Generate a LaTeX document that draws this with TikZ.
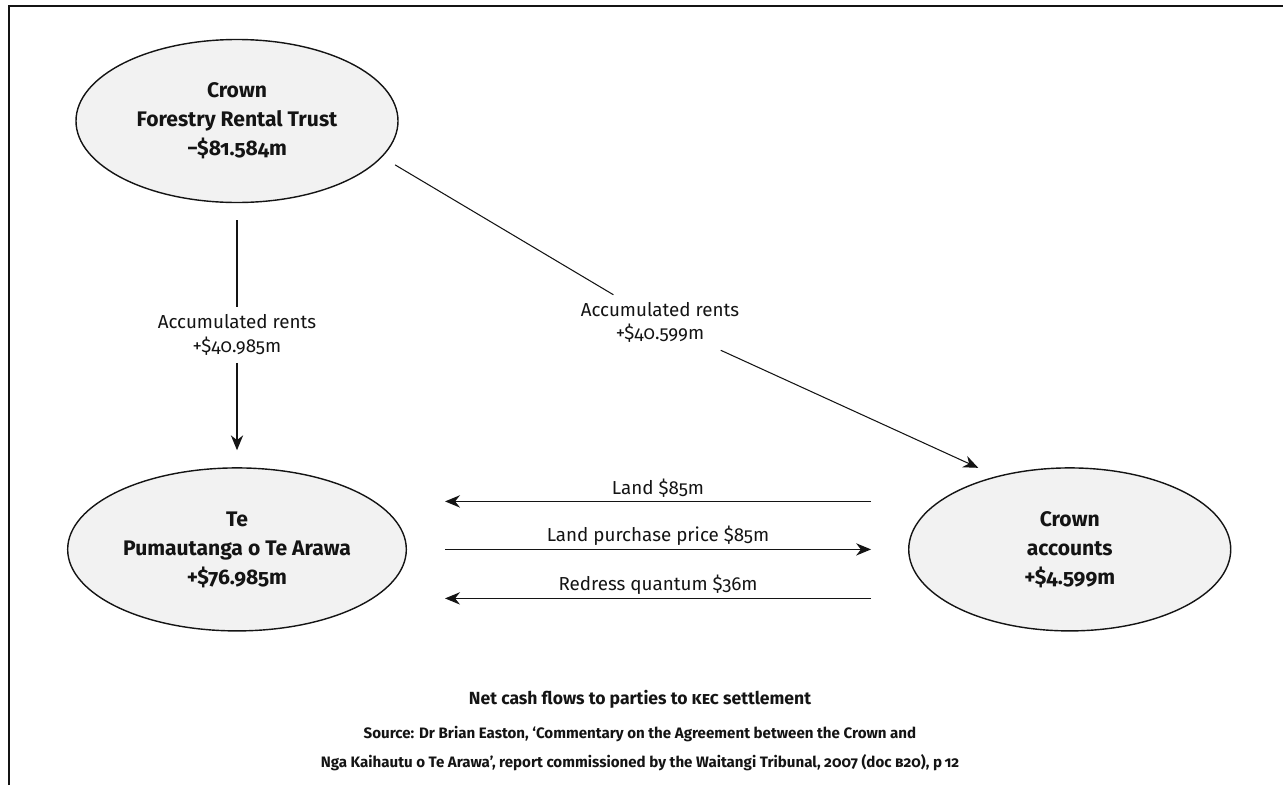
\documentclass[tikz,border=0pt]{standalone}
\usepackage{fontspec}
\setmainfont{Fira Sans}[Numbers=OldStyle]
\usetikzlibrary{
    arrows.meta,
    calc,
    positioning,
    shapes.geometric
}
\definecolor{ink}{RGB}{20,20,20}
\definecolor{partyfill}{RGB}{242,242,242}
\tikzset{
    line cap=round,
    line join=round,
    party/.style={
        ellipse,
        draw=ink,
        line width=0.8pt,
        fill=partyfill,
        text=ink,
        minimum width=6.44cm,
        minimum height=3.26cm,
        align=center,
        font=\bfseries\fontsize{12}{16.5}\selectfont
    },
    flowline/.style={
        -,
        draw=ink,
        line width=0.6pt
    },
    flow/.style={
        -{Stealth[length=8.5pt, width=7pt]},
        draw=ink,
        line width=0.6pt
    },
    flowlabel/.style={
        font=\fontsize{10.7}{13.5}\selectfont,
        text=ink,
        align=center,
        inner sep=4pt
    },
    figtitle/.style={
        font=\bfseries\fontsize{10}{12}\selectfont,
        text=ink
    },
    figsource/.style={
        font=\bfseries\fontsize{8.6}{16.5}\selectfont,
        text=ink,
        align=center
    }
}

\begin{document}
\begin{tikzpicture}
\useasboundingbox (0,0) rectangle (25.66,-15.7);

% Frame (top and left rules)
\draw[ink, line width=1pt] (0.18,-15.7) -- (0.18,-0.12) -- (25.66,-0.12);

% Parties
\node[party] (trust) at (4.74,-2.42) {Crown\\Forestry Rental Trust\\−\$81.584m};
\node[party, below=5.28cm of trust] (te) {Te\\Pumautanga o Te Arawa\\+\$76.985m};
\node[party, right=10.02cm of te] (accounts) {Crown\\accounts\\+\$4.599m};

% Accumulated rents
\node[flowlabel] (rentsA) at ($(trust.south)!0.5!(te.north)$) {Accumulated rents\\+\$40.985m};
\draw[flowline, shorten <=0.34cm] (trust) -- (rentsA);
\draw[flow, shorten >=0.34cm] (rentsA) -- (te);

\node[flowlabel] (rentsB) at (13.2,-6.45) {Accumulated rents\\+\$40.599m};
\draw[flowline, shorten <=0.3cm] (trust.-14) -- (rentsB);
\draw[flow, shorten >=0.4cm] (rentsB) -- (accounts.135);

% Land and settlement payments
\draw[flow, line width=0.9pt] ([xshift=-0.74cm, yshift=0.96cm]accounts.west)
    -- node[above, flowlabel, inner sep=2pt] (land) {Land \$85m}
    ([xshift=0.76cm, yshift=0.96cm]te.east);
\draw[flow] ([xshift=0.76cm]te.east)
    -- node[above, flowlabel, inner sep=2pt] (price) {Land purchase price \$85m}
    ([xshift=-0.74cm]accounts.west);
\draw[flow] ([xshift=-0.74cm, yshift=-0.98cm]accounts.west)
    -- node[above, flowlabel, inner sep=2pt] (redress) {Redress quantum \$36m}
    ([xshift=0.76cm, yshift=-0.98cm]te.east);

% Caption
\node[figtitle] (title) at (12.8,-13.98) {Net cash flows to parties to \textsc{kec} settlement};
\node[figsource, below=0.12cm of title] (source) {Source: Dr Brian Easton, ‘Commentary on the Agreement between the Crown and\\Nga Kaihautu o Te Arawa’, report commissioned by the Waitangi Tribunal, 2007 (doc \textsc{b20}), p\,12};

\end{tikzpicture}
\end{document}
